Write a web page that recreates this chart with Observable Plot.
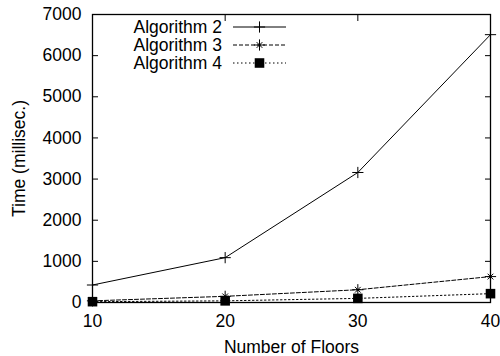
<!DOCTYPE html>
<html><head><meta charset="utf-8">
<script src="https://cdn.jsdelivr.net/npm/d3@7"></script>
<script src="https://cdn.jsdelivr.net/npm/@observablehq/plot@0.6"></script>
<style>body{margin:0;background:#fff}</style>
</head><body><div id="chart"></div>
<script>
const floors = [10, 20, 30, 40];
const seriesNames = ["Algorithm 2", "Algorithm 3", "Algorithm 4"];
const alg2 = [425, 1090, 3160, 6510];
const alg3 = [40, 150, 310, 630];
const alg4 = [20, 40, 100, 215];
const yTicks = [0, 1000, 2000, 3000, 4000, 5000, 6000, 7000];
const xTicks = [10, 20, 30, 40];

const data = [];
[alg2, alg3, alg4].forEach((vals, s) => vals.forEach((v, i) => data.push({floors: floors[i], time: v, series: seriesNames[s]})));
const dashes = {"Algorithm 2": "none", "Algorithm 3": "4,2", "Algorithm 4": "1.5,2.5"};

const font = "'Liberation Sans', Arial, Helvetica, sans-serif";
const fs = 17.5;
const by = name => data.filter(d => d.series === name);
const fmt = d => String(d);

const chart = Plot.plot({
  width: 500, height: 356,
  marginLeft: 92, marginRight: 10, marginTop: 14, marginBottom: 54,
  style: {fontFamily: font, fontSize: fs + "px", color: "#000", background: "#fff", overflow: "visible"},
  x: {domain: [10, 40]},
  y: {domain: [0, 7000]},
  marks: [
    Plot.axisY(yTicks, {anchor: "left", tickSize: 0, tickPadding: 11, tickFormat: fmt, fontSize: fs, label: "Time (millisec.)", labelAnchor: "center", labelOffset: 80, labelArrow: "none"}),
    Plot.axisY(yTicks, {anchor: "left", tickSize: -6, tickFormat: () => "", label: null}),
    Plot.axisY(yTicks, {anchor: "right", tickSize: -6, tickFormat: () => "", label: null}),
    Plot.axisX(xTicks, {anchor: "bottom", tickSize: 0, tickPadding: 12, tickFormat: fmt, fontSize: fs, label: "Number of Floors", labelAnchor: "center", labelOffset: 50, labelArrow: "none"}),
    Plot.axisX(xTicks, {anchor: "bottom", tickSize: -6, tickFormat: () => "", label: null}),
    Plot.axisX(xTicks, {anchor: "top", tickSize: -6, tickFormat: () => "", label: null}),
    Plot.frame({stroke: "#000", strokeWidth: 1.3}),
    ...seriesNames.map(n => Plot.line(by(n), {x: "floors", y: "time", stroke: "#000", strokeWidth: 1, strokeDasharray: dashes[n]})),
    Plot.dot(by("Algorithm 2"), {x: "floors", y: "time", symbol: "plus", r: 3.7, stroke: "#000", strokeWidth: 1}),
    Plot.dot(by("Algorithm 3"), {x: "floors", y: "time", symbol: "plus", r: 3.7, stroke: "#000", strokeWidth: 1}),
    Plot.dot(by("Algorithm 3"), {x: "floors", y: "time", symbol: "times", r: 2.7, stroke: "#000", strokeWidth: 1}),
    Plot.dot(by("Algorithm 4"), {x: "floors", y: "time", symbol: "square", r: 5.4, fill: "#000", stroke: "none"})
  ]
});

// legend (inside the plot, top)
const svg = d3.select(chart);
const lg = svg.append("g").attr("font-family", font).attr("font-size", fs);
const symbols = {
  "Algorithm 2": [{t: d3.symbolPlus, s: 3.7 * 3.7 * Math.PI, fill: false}],
  "Algorithm 3": [{t: d3.symbolPlus, s: 3.7 * 3.7 * Math.PI, fill: false}, {t: d3.symbolTimes, s: 2.7 * 2.7 * Math.PI, fill: false}],
  "Algorithm 4": [{t: d3.symbolSquare, s: 5.4 * 5.4 * Math.PI, fill: true}]
};
seriesNames.forEach((n, i) => {
  const y = 27 + i * 18;
  lg.append("text").attr("x", 222).attr("y", y).attr("dy", "0.35em").attr("text-anchor", "end").attr("fill", "#000").text(n);
  lg.append("line").attr("x1", 233).attr("x2", 286).attr("y1", y).attr("y2", y)
    .attr("stroke", "#000").attr("stroke-width", 1).attr("stroke-dasharray", dashes[n]);
  symbols[n].forEach(sy => {
    lg.append("path").attr("transform", `translate(259.5,${y})`).attr("d", d3.symbol(sy.t, sy.s)())
      .attr("fill", sy.fill ? "#000" : "none").attr("stroke", sy.fill ? "none" : "#000").attr("stroke-width", 1);
  });
});

document.getElementById("chart").appendChild(chart);
</script>
</body></html>
